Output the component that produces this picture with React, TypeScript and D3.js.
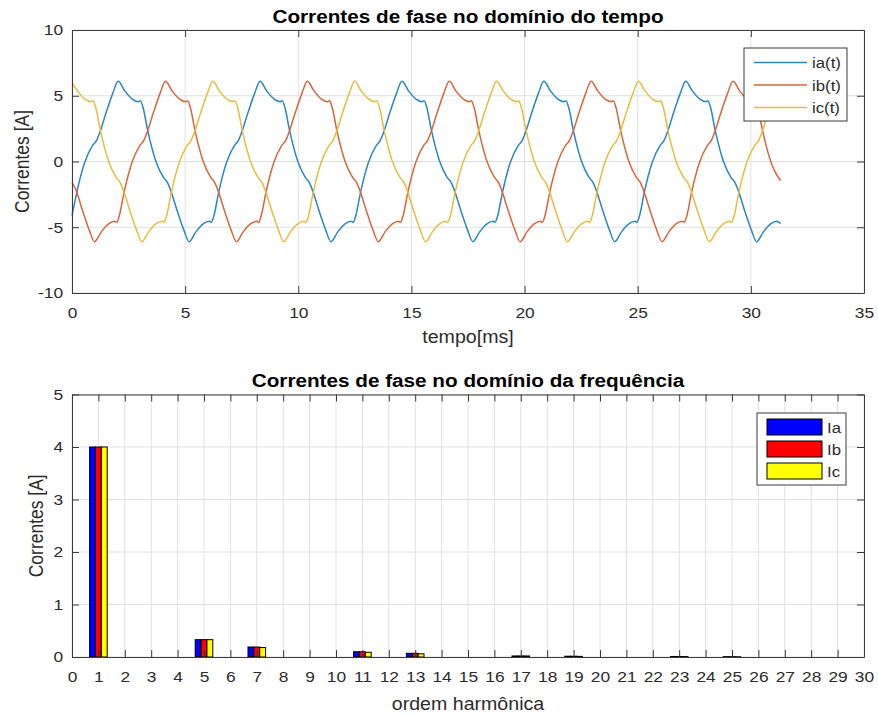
import { useEffect, useRef } from "react";
import * as d3 from "d3";

/////
// Data
/////

// phase currents in the time domain: [tempo (ms), corrente (A)]
const ia: [number, number][] = [
  [0, -4.12], [0.205, -2.4], [0.555, -0.1], [0.905, 1.2], [1.085, 1.6], [1.205, 2.1], [1.505, 3.7], [1.805, 5.2],
  [2.04, 6.1], [2.34, 5.35], [2.66, 4.75], [2.94, 4.55], [3.02, 4.62], [3.14, 4.1], [3.34, 2.4], [3.69, 0.1],
  [4.04, -1.2], [4.22, -1.6], [4.34, -2.1], [4.64, -3.7], [4.94, -5.2],
  [5.175, -6.1], [5.475, -5.35], [5.795, -4.75], [6.075, -4.55], [6.155, -4.62], [6.275, -4.1], [6.475, -2.4], [6.825, -0.1],
  [7.175, 1.2], [7.355, 1.6], [7.475, 2.1], [7.775, 3.7], [8.075, 5.2],
  [8.31, 6.1], [8.61, 5.35], [8.93, 4.75], [9.21, 4.55], [9.29, 4.62], [9.41, 4.1], [9.61, 2.4], [9.96, 0.1],
  [10.31, -1.2], [10.49, -1.6], [10.61, -2.1], [10.91, -3.7], [11.21, -5.2],
  [11.445, -6.1], [11.745, -5.35], [12.065, -4.75], [12.345, -4.55], [12.425, -4.62], [12.545, -4.1], [12.745, -2.4], [13.095, -0.1],
  [13.445, 1.2], [13.625, 1.6], [13.745, 2.1], [14.045, 3.7], [14.345, 5.2],
  [14.58, 6.1], [14.88, 5.35], [15.2, 4.75], [15.48, 4.55], [15.56, 4.62], [15.68, 4.1], [15.88, 2.4], [16.23, 0.1],
  [16.58, -1.2], [16.76, -1.6], [16.88, -2.1], [17.18, -3.7], [17.48, -5.2],
  [17.715, -6.1], [18.015, -5.35], [18.335, -4.75], [18.615, -4.55], [18.695, -4.62], [18.815, -4.1], [19.015, -2.4], [19.365, -0.1],
  [19.715, 1.2], [19.895, 1.6], [20.015, 2.1], [20.315, 3.7], [20.615, 5.2],
  [20.85, 6.1], [21.15, 5.35], [21.47, 4.75], [21.75, 4.55], [21.83, 4.62], [21.95, 4.1], [22.15, 2.4], [22.5, 0.1],
  [22.85, -1.2], [23.03, -1.6], [23.15, -2.1], [23.45, -3.7], [23.75, -5.2],
  [23.985, -6.1], [24.285, -5.35], [24.605, -4.75], [24.885, -4.55], [24.965, -4.62], [25.085, -4.1], [25.285, -2.4], [25.635, -0.1],
  [25.985, 1.2], [26.165, 1.6], [26.285, 2.1], [26.585, 3.7], [26.885, 5.2],
  [27.12, 6.1], [27.42, 5.35], [27.74, 4.75], [28.02, 4.55], [28.1, 4.62], [28.22, 4.1], [28.42, 2.4], [28.77, 0.1],
  [29.12, -1.2], [29.3, -1.6], [29.42, -2.1], [29.72, -3.7], [30.02, -5.2],
  [30.255, -6.1], [30.555, -5.35], [30.875, -4.75], [31.155, -4.55], [31.235, -4.62], [31.32, -4.7],
];

const ib: [number, number][] = [
  [0, -1.6], [0.16, -2.1], [0.46, -3.7], [0.76, -5.2],
  [0.995, -6.1], [1.295, -5.35], [1.615, -4.75], [1.895, -4.55], [1.975, -4.62], [2.095, -4.1], [2.295, -2.4], [2.645, -0.1],
  [2.995, 1.2], [3.175, 1.6], [3.295, 2.1], [3.595, 3.7], [3.895, 5.2],
  [4.13, 6.1], [4.43, 5.35], [4.75, 4.75], [5.03, 4.55], [5.11, 4.62], [5.23, 4.1], [5.43, 2.4], [5.78, 0.1],
  [6.13, -1.2], [6.31, -1.6], [6.43, -2.1], [6.73, -3.7], [7.03, -5.2],
  [7.265, -6.1], [7.565, -5.35], [7.885, -4.75], [8.165, -4.55], [8.245, -4.62], [8.365, -4.1], [8.565, -2.4], [8.915, -0.1],
  [9.265, 1.2], [9.445, 1.6], [9.565, 2.1], [9.865, 3.7], [10.165, 5.2],
  [10.4, 6.1], [10.7, 5.35], [11.02, 4.75], [11.3, 4.55], [11.38, 4.62], [11.5, 4.1], [11.7, 2.4], [12.05, 0.1],
  [12.4, -1.2], [12.58, -1.6], [12.7, -2.1], [13.0, -3.7], [13.3, -5.2],
  [13.535, -6.1], [13.835, -5.35], [14.155, -4.75], [14.435, -4.55], [14.515, -4.62], [14.635, -4.1], [14.835, -2.4], [15.185, -0.1],
  [15.535, 1.2], [15.715, 1.6], [15.835, 2.1], [16.135, 3.7], [16.435, 5.2],
  [16.67, 6.1], [16.97, 5.35], [17.29, 4.75], [17.57, 4.55], [17.65, 4.62], [17.77, 4.1], [17.97, 2.4], [18.32, 0.1],
  [18.67, -1.2], [18.85, -1.6], [18.97, -2.1], [19.27, -3.7], [19.57, -5.2],
  [19.805, -6.1], [20.105, -5.35], [20.425, -4.75], [20.705, -4.55], [20.785, -4.62], [20.905, -4.1], [21.105, -2.4], [21.455, -0.1],
  [21.805, 1.2], [21.985, 1.6], [22.105, 2.1], [22.405, 3.7], [22.705, 5.2],
  [22.94, 6.1], [23.24, 5.35], [23.56, 4.75], [23.84, 4.55], [23.92, 4.62], [24.04, 4.1], [24.24, 2.4], [24.59, 0.1],
  [24.94, -1.2], [25.12, -1.6], [25.24, -2.1], [25.54, -3.7], [25.84, -5.2],
  [26.075, -6.1], [26.375, -5.35], [26.695, -4.75], [26.975, -4.55], [27.055, -4.62], [27.175, -4.1], [27.375, -2.4], [27.725, -0.1],
  [28.075, 1.2], [28.255, 1.6], [28.375, 2.1], [28.675, 3.7], [28.975, 5.2],
  [29.21, 6.1], [29.51, 5.35], [29.83, 4.75], [30.11, 4.55], [30.19, 4.62], [30.31, 4.1], [30.51, 2.4], [30.86, 0.1],
  [31.21, -1.2], [31.32, -1.45],
];

const ic: [number, number][] = [
  [0, 6.0], [0.25, 5.35], [0.57, 4.75], [0.85, 4.55], [0.93, 4.62], [1.05, 4.1], [1.25, 2.4], [1.6, 0.1],
  [1.95, -1.2], [2.13, -1.6], [2.25, -2.1], [2.55, -3.7], [2.85, -5.2],
  [3.085, -6.1], [3.385, -5.35], [3.705, -4.75], [3.985, -4.55], [4.065, -4.62], [4.185, -4.1], [4.385, -2.4], [4.735, -0.1],
  [5.085, 1.2], [5.265, 1.6], [5.385, 2.1], [5.685, 3.7], [5.985, 5.2],
  [6.22, 6.1], [6.52, 5.35], [6.84, 4.75], [7.12, 4.55], [7.2, 4.62], [7.32, 4.1], [7.52, 2.4], [7.87, 0.1],
  [8.22, -1.2], [8.4, -1.6], [8.52, -2.1], [8.82, -3.7], [9.12, -5.2],
  [9.355, -6.1], [9.655, -5.35], [9.975, -4.75], [10.255, -4.55], [10.335, -4.62], [10.455, -4.1], [10.655, -2.4], [11.005, -0.1],
  [11.355, 1.2], [11.535, 1.6], [11.655, 2.1], [11.955, 3.7], [12.255, 5.2],
  [12.49, 6.1], [12.79, 5.35], [13.11, 4.75], [13.39, 4.55], [13.47, 4.62], [13.59, 4.1], [13.79, 2.4], [14.14, 0.1],
  [14.49, -1.2], [14.67, -1.6], [14.79, -2.1], [15.09, -3.7], [15.39, -5.2],
  [15.625, -6.1], [15.925, -5.35], [16.245, -4.75], [16.525, -4.55], [16.605, -4.62], [16.725, -4.1], [16.925, -2.4], [17.275, -0.1],
  [17.625, 1.2], [17.805, 1.6], [17.925, 2.1], [18.225, 3.7], [18.525, 5.2],
  [18.76, 6.1], [19.06, 5.35], [19.38, 4.75], [19.66, 4.55], [19.74, 4.62], [19.86, 4.1], [20.06, 2.4], [20.41, 0.1],
  [20.76, -1.2], [20.94, -1.6], [21.06, -2.1], [21.36, -3.7], [21.66, -5.2],
  [21.895, -6.1], [22.195, -5.35], [22.515, -4.75], [22.795, -4.55], [22.875, -4.62], [22.995, -4.1], [23.195, -2.4], [23.545, -0.1],
  [23.895, 1.2], [24.075, 1.6], [24.195, 2.1], [24.495, 3.7], [24.795, 5.2],
  [25.03, 6.1], [25.33, 5.35], [25.65, 4.75], [25.93, 4.55], [26.01, 4.62], [26.13, 4.1], [26.33, 2.4], [26.68, 0.1],
  [27.03, -1.2], [27.21, -1.6], [27.33, -2.1], [27.63, -3.7], [27.93, -5.2],
  [28.165, -6.1], [28.465, -5.35], [28.785, -4.75], [29.065, -4.55], [29.145, -4.62], [29.265, -4.1], [29.465, -2.4], [29.815, -0.1],
  [30.165, 1.2], [30.345, 1.6], [30.465, 2.1], [30.765, 3.7], [31.065, 5.2], [31.32, 6.1],
];

const timeSeries = [
  { name: "ia(t)", color: "#2a86c2", data: ia },
  { name: "ib(t)", color: "#d8653c", data: ib },
  { name: "ic(t)", color: "#e9bb3e", data: ic },
];

// harmonic spectrum
const orders = [1, 5, 7, 11, 13, 17, 19, 23, 25];
const Ia = [4.0, 0.33, 0.19, 0.1, 0.07, 0.02, 0.015, 0.01, 0.006];
const Ib = [4.0, 0.33, 0.19, 0.1, 0.07, 0.02, 0.015, 0.01, 0.006];
const Ic = [4.0, 0.33, 0.18, 0.09, 0.06, 0.02, 0.012, 0.008, 0.005];
const barSeries = [
  { name: "Ia", color: "#0000ff", values: Ia },
  { name: "Ib", color: "#ff0000", values: Ib },
  { name: "Ic", color: "#ffff00", values: Ic },
];

// ticks
const timeTicks = [0, 5, 10, 15, 20, 25, 30, 35];
const currentTicks = [-10, -5, 0, 5, 10];
const orderTicks = [
  0, 1, 2, 3, 4, 5, 6, 7, 8, 9, 10, 11, 12, 13, 14, 15, 16, 17, 18, 19, 20, 21, 22, 23, 24, 25, 26, 27, 28, 29, 30,
];
const ampTicks = [0, 1, 2, 3, 4, 5];

const FONT = "'Liberation Sans', Arial, Helvetica, sans-serif";
const SX = 1.12; // text in the picture is slightly stretched horizontally
const AXIS = "#3a3a3a";
const TXT = "#2b2b2b";
const GRID = "#e1e1e1";

type Sel = d3.Selection<SVGSVGElement, unknown, null, undefined>;

const drawGrid = (svg: Sel, x: d3.ScaleLinear<number, number>, y: d3.ScaleLinear<number, number>, xt: number[], yt: number[]) => {
  const g = svg.append("g").attr("stroke", GRID).attr("stroke-width", 1);
  g.selectAll(".gx")
    .data(xt)
    .join("line")
    .attr("class", "gx")
    .attr("x1", (d) => x(d))
    .attr("x2", (d) => x(d))
    .attr("y1", y.range()[0])
    .attr("y2", y.range()[1]);
  g.selectAll(".gy")
    .data(yt)
    .join("line")
    .attr("class", "gy")
    .attr("x1", x.range()[0])
    .attr("x2", x.range()[1])
    .attr("y1", (d) => y(d))
    .attr("y2", (d) => y(d));
};

const drawAxes = (svg: Sel, x: d3.ScaleLinear<number, number>, y: d3.ScaleLinear<number, number>, xt: number[], yt: number[]) => {
  const tk = 7;
  const [yb, yt0] = y.range();
  const [xl, xr] = x.range();
  const fmt = (d: d3.NumberValue) => String(d);
  const none = () => "";

  const parts = [
    svg.append("g").attr("transform", `translate(0,${yb})`)
      .call(d3.axisBottom(x).tickValues(xt).tickSizeInner(-tk).tickSizeOuter(0).tickPadding(14).tickFormat(fmt)),
    svg.append("g").attr("transform", `translate(0,${yt0})`)
      .call(d3.axisTop(x).tickValues(xt).tickSizeInner(-tk).tickSizeOuter(0).tickFormat(none)),
    svg.append("g").attr("transform", `translate(${xl},0)`)
      .call(d3.axisLeft(y).tickValues(yt).tickSizeInner(-tk).tickSizeOuter(0).tickPadding(8).tickFormat(fmt)),
    svg.append("g").attr("transform", `translate(${xr},0)`)
      .call(d3.axisRight(y).tickValues(yt).tickSizeInner(-tk).tickSizeOuter(0).tickFormat(none)),
  ];
  parts.forEach((p) => {
    p.selectAll("path, line").attr("stroke", AXIS).attr("stroke-width", 1);
    p.selectAll("text")
      .attr("fill", TXT)
      .style("font-family", FONT)
      .style("font-size", "15.5px")
      .attr("transform", `scale(${SX},1)`);
  });
};

const label = (
  svg: Sel,
  txt: string,
  x: number,
  y: number,
  opts: { size: number; bold?: boolean; rotate?: boolean; anchor?: string }
) => {
  svg
    .append("text")
    .attr("transform", `translate(${x},${y}) scale(${SX},1)${opts.rotate ? " rotate(-90)" : ""}`)
    .attr("text-anchor", opts.anchor ?? "middle")
    .attr("fill", opts.bold ? "#000" : TXT)
    .style("font-family", FONT)
    .style("font-size", `${opts.size}px`)
    .style("font-weight", opts.bold ? "bold" : "normal")
    .text(txt);
};

const App = () => {
  const svgRef = useRef<SVGSVGElement | null>(null);

  useEffect(() => {
    const svg = d3.select(svgRef.current) as unknown as Sel;
    svg.selectAll("*").remove();

    /////
    // Top: time domain
    /////
    const xT = d3.scaleLinear().domain([0, 35]).range([72, 864]);
    const yT = d3.scaleLinear().domain([-10, 10]).range([293, 30]);

    drawGrid(svg, xT, yT, timeTicks, currentTicks);

    const line = d3
      .line<[number, number]>()
      .x((d) => xT(d[0]))
      .y((d) => yT(d[1]))
      .curve(d3.curveMonotoneX);

    svg
      .append("g")
      .selectAll("path")
      .data(timeSeries)
      .join("path")
      .attr("d", (d) => line(d.data))
      .attr("fill", "none")
      .attr("stroke", (d) => d.color)
      .attr("stroke-width", 1.5)
      .attr("stroke-linejoin", "round");

    drawAxes(svg, xT, yT, timeTicks, currentTicks);

    label(svg, "Correntes de fase no domínio do tempo", 468, 22.5, { size: 18.5, bold: true });
    label(svg, "tempo[ms]", 468, 342.5, { size: 17.5 });
    label(svg, "Correntes [A]", 29, 161.5, { size: 17.5, rotate: true });

    // legend (top)
    const lgT = svg.append("g");
    lgT.append("rect").attr("x", 744).attr("y", 48).attr("width", 103).attr("height", 73)
      .attr("fill", "#fff").attr("stroke", AXIS).attr("stroke-width", 1);
    timeSeries.forEach((s, i) => {
      const cy = 62.5 + i * 22.5;
      lgT.append("line").attr("x1", 754).attr("x2", 807).attr("y1", cy).attr("y2", cy)
        .attr("stroke", s.color).attr("stroke-width", 1.5);
      label(lgT as unknown as Sel, s.name, 812, cy + 5.5, { size: 15, anchor: "start" });
    });

    /////
    // Bottom: frequency domain
    /////
    const xF = d3.scaleLinear().domain([0, 30]).range([72, 864]);
    const yF = d3.scaleLinear().domain([0, 5]).range([657, 394.5]);

    drawGrid(svg, xF, yF, orderTicks, ampTicks);

    const groupW = xF(0.667) - xF(0);
    const inner = d3.scaleBand().domain(barSeries.map((s) => s.name)).range([-groupW / 2, groupW / 2]);

    barSeries.forEach((s) => {
      svg
        .append("g")
        .selectAll("rect")
        .data(orders.map((o, i) => ({ o, v: s.values[i] })))
        .join("rect")
        .attr("x", (d) => xF(d.o) + (inner(s.name) as number))
        .attr("y", (d) => yF(d.v))
        .attr("width", inner.bandwidth())
        .attr("height", (d) => yF(0) - yF(d.v))
        .attr("fill", s.color)
        .attr("stroke", "#000")
        .attr("stroke-width", 1);
    });

    drawAxes(svg, xF, yF, orderTicks, ampTicks);

    label(svg, "Correntes de fase no domínio da frequência", 468, 387, { size: 18.5, bold: true });
    label(svg, "ordem harmônica", 468, 710, { size: 17.5 });
    label(svg, "Correntes [A]", 43, 525.8, { size: 17.5, rotate: true });

    // legend (bottom)
    const lgF = svg.append("g");
    lgF.append("rect").attr("x", 757).attr("y", 413).attr("width", 89).attr("height", 72)
      .attr("fill", "#fff").attr("stroke", AXIS).attr("stroke-width", 1);
    barSeries.forEach((s, i) => {
      const cy = 427 + i * 22;
      lgF.append("rect").attr("x", 767).attr("y", cy - 8).attr("width", 55).attr("height", 16)
        .attr("fill", s.color).attr("stroke", "#000").attr("stroke-width", 1);
      label(lgF as unknown as Sel, s.name, 827, cy + 5.5, { size: 15, anchor: "start" });
    });
  }, []);

  return (
    <svg
      ref={svgRef}
      width={878}
      height={716}
      style={{ position: "absolute", left: 0, top: 0, background: "#fff" }}
    ></svg>
  );
};

export default App;
